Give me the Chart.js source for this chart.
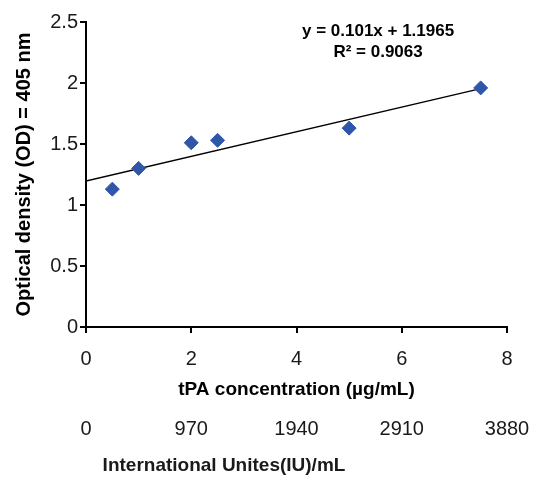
<!DOCTYPE html>
<html>
<head>
    <meta charset="UTF-8">
    <title>tPA standard curve</title>
    <script src="https://cdn.jsdelivr.net/npm/chart.js"></script>
    <style>
        body { margin: 0; background: #fff; }
        .chart-container { width: 540px; height: 483px; }
    </style>
</head>
<body>
    <div class="chart-container">
        <canvas id="odChart"></canvas>
    </div>
    <script>
        // measured points (tPA ug/mL vs OD 405 nm)
        var conc = [0.5, 1, 2, 2.5, 5, 7.5];
        var od = [1.13, 1.30, 1.51, 1.53, 1.63, 1.96];

        // linear fit y = 0.101x + 1.1965, drawn from 0 to 7.5
        var trendX = [0, 7.5];
        var trendY = [1.1965, 1.9540];

        var xTicks = ['0', '2', '4', '6', '8'];
        var iuTicks = ['0', '970', '1940', '2910', '3880'];
        var yTicks = ['0', '0.5', '1', '1.5', '2', '2.5'];

        var eqLines = ['y = 0.101x + 1.1965', 'R² = 0.9063'];
        var iuTitle = 'International Unites(IU)/mL';

        var pts = conc.map(function (c, i) { return { x: c, y: od[i] }; });
        var trend = trendX.map(function (c, i) { return { x: c, y: trendY[i] }; });

        var FONT = "'Liberation Sans', Arial, sans-serif";
        var TXT = '#1a1a1a';

        var extraText = {
            id: 'extraText',
            afterDraw: function (chart) {
                var ctx = chart.ctx;
                var xs = chart.scales.x, ys = chart.scales.y;
                ctx.save();
                ctx.fillStyle = '#000';
                ctx.textAlign = 'center';
                ctx.textBaseline = 'middle';
                ctx.font = 'bold 17px ' + FONT;
                var ex = xs.getPixelForValue(5.55);
                var ey = ys.getPixelForValue(2.42);
                ctx.fillText(eqLines[0], ex, ey);
                ctx.fillText(eqLines[1], ex, ey + 21);
                ctx.font = 'bold 19px ' + FONT;
                ctx.fillStyle = TXT;
                ctx.fillText(iuTitle, 224, 466);
                ctx.restore();
            }
        };

        var ctx = document.getElementById('odChart').getContext('2d');
        var odChart = new Chart(ctx, {
            type: 'scatter',
            data: {
                datasets: [
                    {
                        label: 'OD',
                        data: pts,
                        backgroundColor: '#2f56a8',
                        borderColor: '#2f56a8',
                        pointStyle: 'rectRot',
                        pointRadius: 7,
                        pointHoverRadius: 7,
                        order: 1
                    },
                    {
                        label: 'Linear',
                        type: 'line',
                        data: trend,
                        borderColor: '#000',
                        borderWidth: 1.5,
                        pointRadius: 0,
                        fill: false,
                        order: 2
                    }
                ]
            },
            options: {
                responsive: true,
                maintainAspectRatio: false,
                animation: false,
                layout: { padding: { left: 0, top: 22, right: 33, bottom: 0 } },
                plugins: {
                    legend: { display: false },
                    tooltip: { enabled: false }
                },
                scales: {
                    x: {
                        type: 'linear',
                        position: 'bottom',
                        weight: 0,
                        min: 0,
                        max: 8,
                        afterFit: function (s) { s.height = 74; },
                        border: { display: true, color: '#000', width: 2 },
                        grid: { display: true, drawOnChartArea: false, drawTicks: true, tickLength: 6, color: '#000', lineWidth: 2 },
                        ticks: {
                            stepSize: 2,
                            padding: 14,
                            color: TXT,
                            font: { family: FONT, size: 20 },
                            callback: function (v, i) { return xTicks[i]; }
                        },
                        title: {
                            display: true,
                            text: 'tPA concentration (µg/mL)',
                            color: '#000',
                            font: { family: FONT, size: 19, weight: 'bold' },
                            padding: { top: 4, bottom: 0 }
                        }
                    },
                    x2: {
                        type: 'linear',
                        position: 'bottom',
                        weight: 1,
                        min: 0,
                        max: 8,
                        afterFit: function (s) { s.height = 82; },
                        border: { display: false },
                        grid: { display: false },
                        ticks: {
                            stepSize: 2,
                            padding: 8,
                            color: TXT,
                            font: { family: FONT, size: 20 },
                            callback: function (v, i) { return iuTicks[i]; }
                        }
                    },
                    y: {
                        type: 'linear',
                        min: 0,
                        max: 2.5,
                        afterFit: function (s) { s.width = 86; },
                        border: { display: true, color: '#000', width: 2 },
                        grid: { display: true, drawOnChartArea: false, drawTicks: true, tickLength: 6, color: '#000', lineWidth: 2 },
                        ticks: {
                            stepSize: 0.5,
                            padding: 2,
                            color: TXT,
                            font: { family: FONT, size: 20 },
                            callback: function (v, i) { return yTicks[i]; }
                        },
                        title: {
                            display: true,
                            text: 'Optical density (OD) = 405 nm',
                            color: '#000',
                            font: { family: FONT, size: 20, weight: 'bold' },
                            padding: { top: 12, bottom: 0 }
                        }
                    }
                }
            },
            plugins: [extraText]
        });
    </script>
</body>
</html>
